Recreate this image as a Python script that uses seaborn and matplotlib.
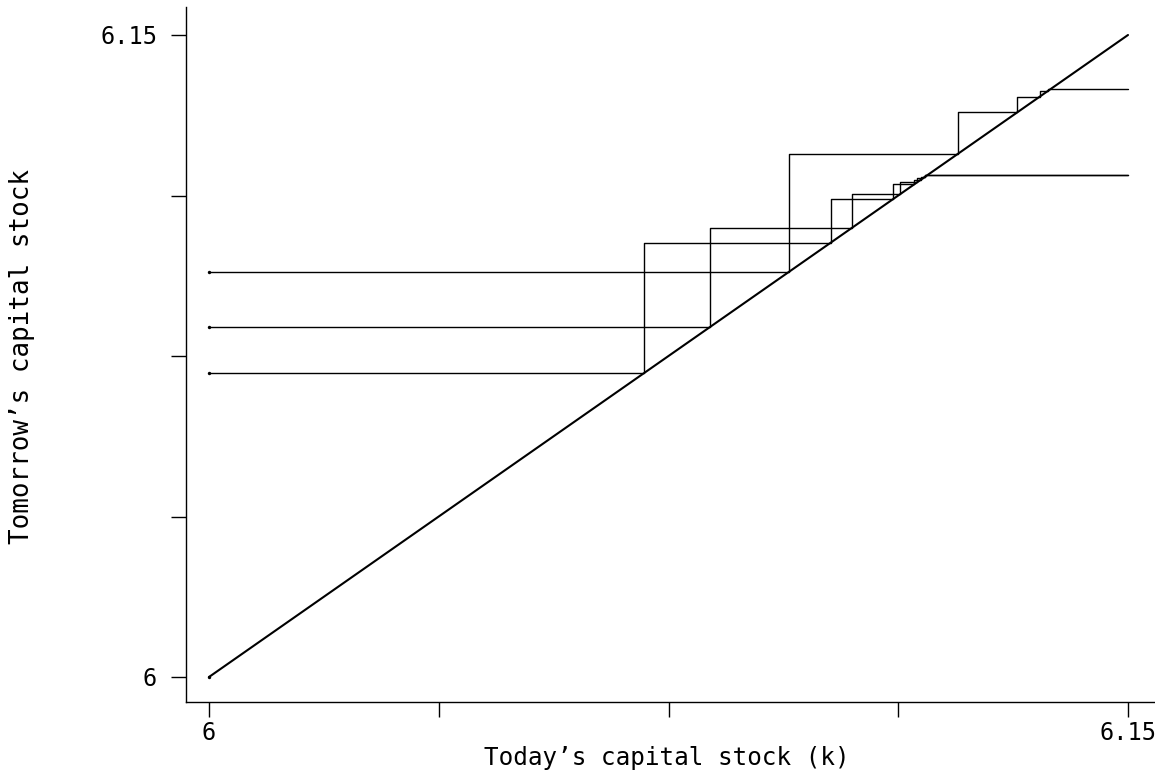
import numpy as np
import pandas as pd
import matplotlib
matplotlib.use("Agg")
import matplotlib.pyplot as plt
import seaborn as sns

# ---- data: capital paths (k0, k1, k2, ...) ----
path_a = [6.0, 6.0710, 6.1015, 6.1116, 6.1151, 6.1162, 6.1168, 6.1172]
path_b = [6.0, 6.0818, 6.1050, 6.1128, 6.1156, 6.1165, 6.1169, 6.1172]
path_c = [6.0, 6.0947, 6.1222, 6.1319, 6.1356, 6.1370, 6.1375]
paths = {"a": path_a, "b": path_b, "c": path_c}
k_min, k_max = 6.0, 6.15
tick_values = [6.0, 6.0375, 6.075, 6.1125, 6.15]
tick_labels = ["6", "", "", "", "6.15"]
x_title = "Today\u2019s capital stock (k)"
y_title = "Tomorrow\u2019s capital stock"

# build cobweb staircase table from the paths
rows = []
for name, ks in paths.items():
    order = 0
    rows.append((name, order, ks[0], ks[1])); order += 1
    for i in range(1, len(ks) - 1):
        rows.append((name, order, ks[i], ks[i])); order += 1
        rows.append((name, order, ks[i], ks[i + 1])); order += 1
    rows.append((name, order, ks[-1], ks[-1])); order += 1
    rows.append((name, order, k_max, ks[-1]))
df = pd.DataFrame(rows, columns=["path", "order", "k", "knext"])
starts = pd.DataFrame({"k": [k_min] * 4,
                       "knext": [k_min] + [p[1] for p in paths.values()]})
diag = pd.DataFrame({"k": [k_min, k_max], "knext": [k_min, k_max]})

sns.set_theme(style="white")
plt.rcParams["font.family"] = ["DejaVu Sans Mono", "DejaVu Sans"]

W, H = 1155, 783
fig = plt.figure(figsize=(W / 100, H / 100), dpi=100)
L, R, T, B = 186, 1155, 7, 702
ax = fig.add_axes([L / W, 1 - B / H, (R - L) / W, (B - T) / H])

sns.lineplot(data=diag, x="k", y="knext", ax=ax, color="black", lw=1.5,
             sort=False, estimator=None)
sns.lineplot(data=df, x="k", y="knext", units="path", ax=ax, color="black",
             lw=1.0, sort=False, estimator=None)
sns.scatterplot(data=starts, x="k", y="knext", ax=ax, color="black", s=6,
                linewidth=0, zorder=5)

# axis ranges (px mapping: x 6->209, 6.15->1128 ; y 6->677, 6.15->35)
xs = (1128 - 209) / 0.15
ys = (677 - 35) / 0.15
ax.set_xlim(6 - (209 - L) / xs, 6 + (R - 209) / xs)
ax.set_ylim(6 - (B - 677) / ys, 6 + (677 - T) / ys)

ax.set_xticks(tick_values)
ax.set_xticklabels(tick_labels)
ax.set_yticks(tick_values)
ax.set_yticklabels(tick_labels)
ax.tick_params(axis="both", which="major", direction="out", length=10.8,
               width=1.0, color="black", labelcolor="black", labelsize=17,
               bottom=True, left=True, top=False, right=False)
ax.tick_params(axis="x", pad=3)
ax.tick_params(axis="y", pad=10)

for s in ["top", "right"]:
    ax.spines[s].set_visible(False)
for s in ["left", "bottom"]:
    ax.spines[s].set_color("black")
    ax.spines[s].set_linewidth(1.0)
ax.grid(False)

ax.set_xlabel(x_title, fontsize=17.5, color="black")
ax.set_ylabel(y_title, fontsize=18.6, color="black")
ax.xaxis.set_label_coords((667 - L) / (R - L), -(746 - B) / (B - T))
ax.xaxis.label.set_va("top")
ax.yaxis.set_label_coords(-(L - 35) / (R - L), (B - 356) / (B - T))

fig.savefig("out.png", dpi=100, facecolor="white")
